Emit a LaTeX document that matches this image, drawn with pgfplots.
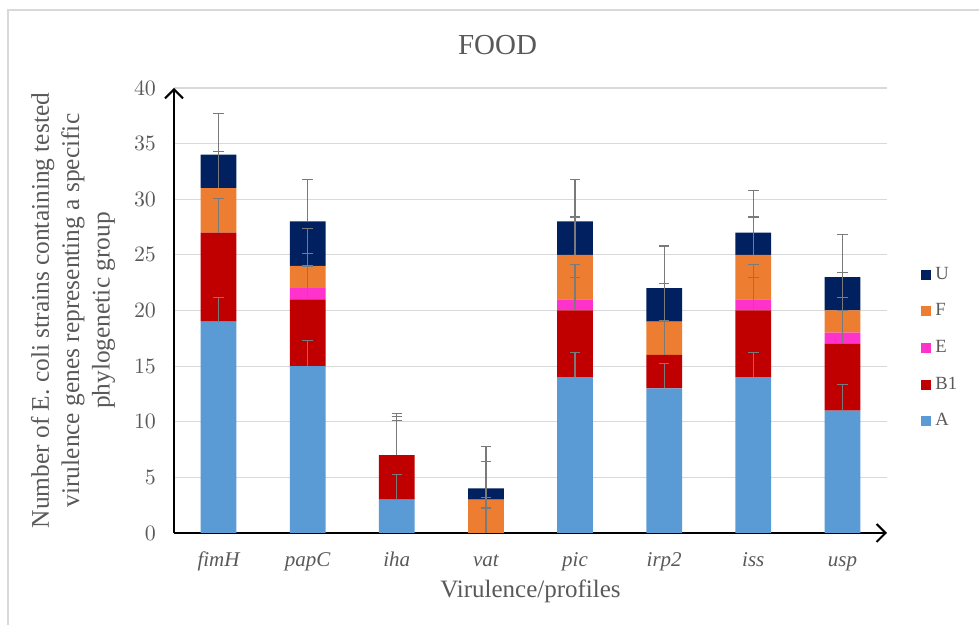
\documentclass[border=0pt]{standalone}
\usepackage{fontspec}
\setmainfont{Liberation Serif}
\usepackage{pgfplots}
\usepackage{pgfplotstable}
\pgfplotsset{compat=1.18}
\usetikzlibrary{arrows.meta}

\definecolor{colA}{HTML}{5B9BD5}
\definecolor{colB}{HTML}{C00000}
\definecolor{colE}{HTML}{FF33CC}
\definecolor{colF}{HTML}{ED7D31}
\definecolor{colU}{HTML}{002060}
\definecolor{labelgray}{HTML}{595959}
\definecolor{gridgray}{HTML}{D9D9D9}
\definecolor{errgray}{HTML}{7A7A7A}

% strains per phylogenetic group for each virulence gene
\pgfplotstableread{
x gene A  B1 E F U
0 fimH 19 8  0 4 3
1 papC 15 6  1 2 4
2 iha  3  4  0 0 0
3 vat  0  0  0 3 1
4 pic  14 6  1 4 3
5 irp2 13 3  0 3 3
6 iss  14 6  1 4 2
7 usp  11 6  1 2 3
}\counts

% cumulative top of each segment and its (upper) error
\pgfplotstableread{
x Atop Aerr B1top B1err Etop Eerr Ftop Ferr Utop Uerr
0 19   2.2  27    3.1   27   3.1  31   3.3  34   3.7
1 15   2.3  21    3.0   22   3.1  24   3.4  28   3.8
2 3    2.27 7     3.1   7    3.1  7    3.46 7    3.76
3 0    2.25 0     3.2   0    3.2  3    3.4  4    3.76
4 14   2.2  20    3.0   21   3.1  25   3.4  28   3.8
5 13   2.25 16    3.1   16   3.1  19   3.4  22   3.8
6 14   2.2  20    3.0   21   3.1  25   3.4  27   3.77
7 11   2.33 17    3.0   18   3.15 20   3.4  23   3.8
}\errs

\pgfplotsset{
  sqlegend/.style={legend image code/.code={\fill[##1] (0pt,-2.5pt) rectangle (5pt,2.5pt);}},
  frame/.style={
    at={(87pt,46pt)}, anchor=south west,
    width=356.5pt, height=222.5pt, scale only axis,
    xmin=-0.5, xmax=7.5, ymin=0, ymax=40,
  },
}

\begin{document}
\begin{tikzpicture}
\useasboundingbox (0,0) rectangle (489.5pt,312.5pt);
\begin{scope}
  \clip (0,0) rectangle (489.5pt,312.5pt);
  \draw[gridgray, line width=1pt] (3.75pt,-5pt) -- (3.75pt,307.25pt) -- (495pt,307.25pt);
\end{scope}

\node[anchor=base, text=labelgray, font=\fontsize{14.5}{16}\selectfont] at (248.75pt,285pt) {FOOD};

\begin{axis}[
  frame,
  ybar stacked, bar width=0.4,
  axis lines=left,
  axis line style={black, line width=1pt, -{Straight Barb[length=4.5pt,width=9pt,line width=1pt]}},
  xtick={0,...,7},
  xticklabels={fimH,papC,iha,vat,pic,irp2,iss,usp},
  ytick={0,5,...,40},
  major tick length=0pt,
  ymajorgrids,
  grid style={gridgray, line width=0.6pt},
  tick label style={text=labelgray},
  xticklabel style={font=\fontsize{10.5}{12}\selectfont\itshape, anchor=base, yshift=-16.8pt},
  yticklabel style={font=\fontsize{10.5}{12}\selectfont, anchor=east, xshift=-5.5pt},
  xlabel={Virulence/profiles},
  xlabel style={at={(axis description cs:0.5,0)}, anchor=base, yshift=-32.5pt,
    font=\fontsize{12.5}{14}\selectfont, text=labelgray},
  ylabel={Number of E. coli strains containing tested\\virulence genes representing a specific\\phylogenetic group},
  ylabel style={at={(axis description cs:-0.1417,0.5)}, anchor=center, align=center,
    font=\fontsize{12.7}{15.2}\selectfont, text=labelgray},
  reverse legend,
  legend cell align=left,
  legend style={at={(axis description cs:1.0477,0.4157)}, anchor=west,
    draw=none, fill=none, inner sep=0pt, row sep=6.7pt,
    font=\fontsize{9.3}{10}\selectfont, text=labelgray},
]
\addplot[fill=colA, draw=none, sqlegend] table[x=x, y=A] {\counts};
\addplot[fill=colB, draw=none, sqlegend] table[x=x, y=B1] {\counts};
\addplot[fill=colE, draw=none, sqlegend] table[x=x, y=E] {\counts};
\addplot[fill=colF, draw=none, sqlegend] table[x=x, y=F] {\counts};
\addplot[fill=colU, draw=none, sqlegend] table[x=x, y=U] {\counts};
\legend{A,B1,E,F,U}
\end{axis}

% error bars at the top of every stacked segment
\begin{axis}[
  frame,
  hide axis,
  error bars/y dir=plus,
  error bars/y explicit,
  error bars/error bar style={draw=errgray, line width=0.6pt},
  error bars/error mark options={draw=errgray, line width=0.6pt, mark size=2.6pt, rotate=90},
]
\addplot[draw=none, mark=none] table[x=x, y=Atop, y error=Aerr] {\errs};
\addplot[draw=none, mark=none] table[x=x, y=B1top, y error=B1err] {\errs};
\addplot[draw=none, mark=none] table[x=x, y=Etop, y error=Eerr] {\errs};
\addplot[draw=none, mark=none] table[x=x, y=Ftop, y error=Ferr] {\errs};
\addplot[draw=none, mark=none] table[x=x, y=Utop, y error=Uerr] {\errs};
\end{axis}
\end{tikzpicture}
\end{document}
